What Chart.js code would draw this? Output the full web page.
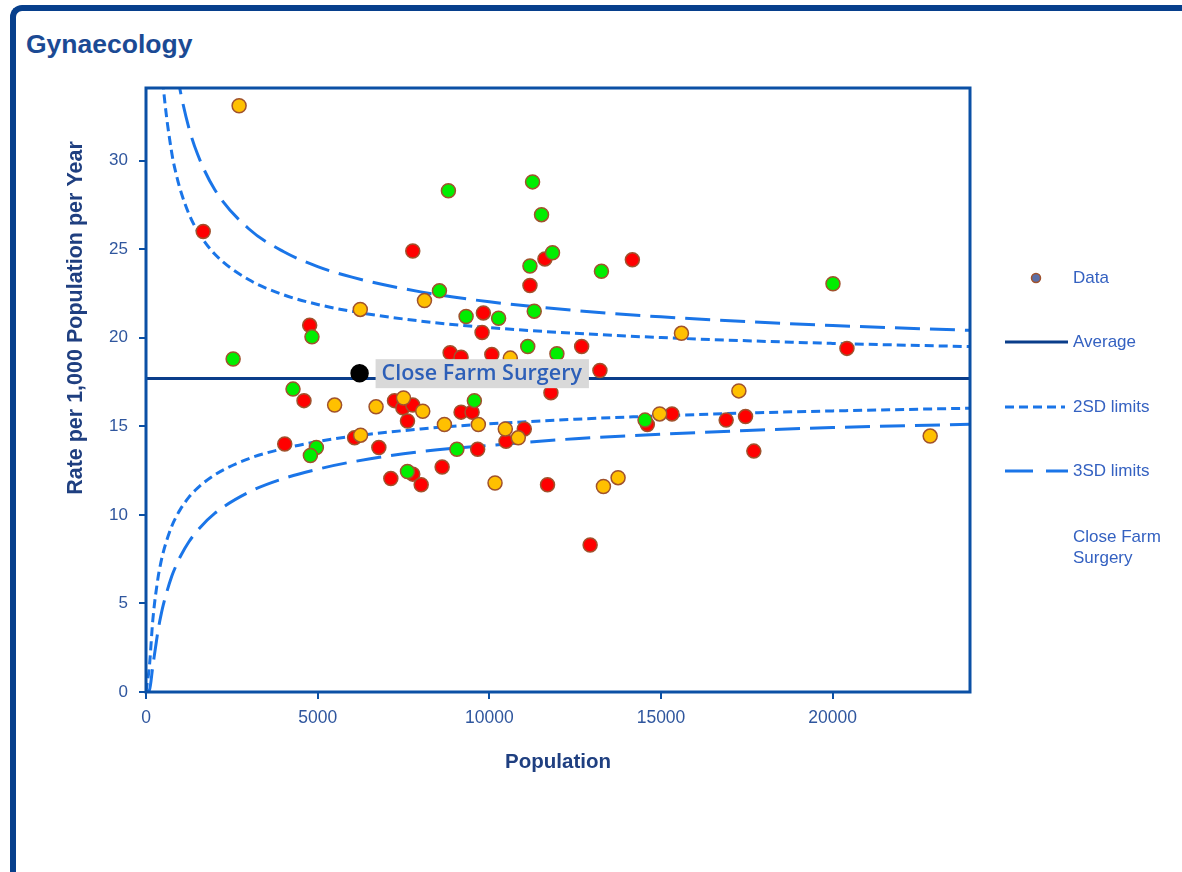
<!DOCTYPE html>
<html>
<head>
<meta charset="utf-8">
<script src="https://cdn.jsdelivr.net/npm/chart.js@4.4.1/dist/chart.umd.min.js"></script>
<style>
  body { margin: 0; background: #fff; width: 1182px; height: 872px; overflow: hidden; position: relative; font-family: "Liberation Sans", Arial, sans-serif; }
  #frame { position: absolute; left: 10px; top: 5px; width: 1300px; height: 1000px; border-left: 6px solid #073f8c; border-top: 6px solid #073f8c; border-top-left-radius: 12px; }
  #title { position: absolute; left: 26px; top: 29px; font-weight: bold; font-size: 26.5px; color: #1b4a94; }
  canvas { position: absolute; left: 0; top: 0; }
</style>
</head>
<body>
<div id="frame"></div>
<div id="title">Gynaecology</div>
<canvas id="chart" width="1182" height="872"></canvas>
<script>
// practices, coloured by how they compare with the average
const redX = [1666, 7770, 4767, 11619, 14166, 11183, 9826, 9788, 12689, 8858, 9177, 10073, 13221, 20416, 15320, 14602, 16898, 17462, 17704, 4602, 7238, 7480, 7770, 7616, 4041, 6076, 6782, 7131, 7770, 8015, 8625, 11794, 9177, 9497, 11018, 10486, 9660, 11695, 12936]
const redY = [26.0, 24.9, 20.7, 24.45, 24.4, 22.95, 21.4, 20.3, 19.5, 19.15, 18.9, 19.05, 18.15, 19.4, 15.7, 15.1, 15.35, 15.55, 13.6, 16.45, 16.45, 16.05, 16.2, 15.3, 14.0, 14.35, 13.8, 12.05, 12.3, 11.7, 12.7, 16.9, 15.8, 15.8, 14.85, 14.15, 13.7, 11.7, 8.3]

const orangeX = [2712, 6241, 8111, 15596, 5494, 6701, 7500, 8061, 6250, 8692, 9680, 10465, 10843, 10166, 13323, 13750, 14962, 17268, 22840, 10611]
const orangeY = [33.1, 21.6, 22.1, 20.25, 16.2, 16.1, 16.6, 15.85, 14.5, 15.1, 15.1, 14.85, 14.35, 11.8, 11.6, 12.1, 15.7, 17.0, 14.45, 18.85]

const greenX = [8547, 4834, 2538, 8808, 11259, 11520, 11840, 11183, 13265, 9323, 10270, 11308, 11119, 11968, 20009, 14535, 4282, 4962, 4788, 7616, 9564, 9055]
const greenY = [22.65, 20.05, 18.8, 28.3, 28.8, 26.95, 24.8, 24.05, 23.75, 21.2, 21.1, 21.5, 19.5, 19.1, 23.05, 15.35, 17.1, 13.8, 13.35, 12.45, 16.45, 13.7]

const farmName = "Close Farm Surgery"
const farmX = [6221]
const farmY = [18.0]

const avgX = [0, 24000]
const avgY = [17.7, 17.7]

// funnel limits (null = above the top of the plot)
const limitX  = [0, 100, 200, 350, 400, 500, 750, 900, 1000, 1250, 1500, 2000, 3000, 4000, 5000, 6000, 8000, 10000, 12500, 15000, 17500, 20000, 24000]
const upper2 = [null, null, null, null, 36.9, 34.25, 30.44, 29.07, 28.35, 26.99, 26.03, 24.73, 23.27, 22.43, 21.88, 21.49, 20.94, 20.57, 20.25, 20.01, 19.83, 19.68, 19.5]
const upper3 = [null, null, null, null, null, null, 37.1, 35.03, 33.92, 31.84, 30.37, 28.37, 26.14, 24.87, 24.02, 23.42, 22.59, 22.03, 21.54, 21.18, 20.91, 20.69, 20.42]
const lower2 = [0, 1.47, 4.1, 6.45, 6.99, 7.87, 9.36, 9.97, 10.31, 11.0, 11.51, 12.26, 13.18, 13.74, 14.14, 14.43, 14.85, 15.14, 15.4, 15.59, 15.75, 15.87, 16.02]
const lower3 = [0, 0.11, 1.48, 3.46, 3.99, 4.89, 6.53, 7.24, 7.65, 8.48, 9.12, 10.08, 11.29, 12.05, 12.58, 12.99, 13.57, 13.92, 14.3, 14.55, 14.76, 14.93, 15.12]

const xTicks = [0, 5000, 10000, 15000, 20000]
const yTicks = [0, 5, 10, 15, 20, 25, 30]

const legendLabels = ["Data", "Average", "2SD limits", "3SD limits", "Close Farm", "Surgery"]

const pts = (xs, ys) => xs.map((x, i) => ({ x: x, y: ys[i] })).filter(p => p.y !== null)

const FONT = '"Liberation Sans", Arial, sans-serif'
const AXIS = '#0b50a5'
const SD = '#1a75e8'

const dots = (data, color) => ({
  data: data,
  backgroundColor: color,
  borderColor: '#a0522d',
  borderWidth: 1.5,
  pointRadius: 7,
  pointHoverRadius: 7,
  showLine: false,
  order: 0
})

const curve = (data, dash) => ({
  data: data,
  showLine: true,
  borderColor: SD,
  borderWidth: 3,
  borderDash: dash,
  pointRadius: 0,
  cubicInterpolationMode: 'monotone',
  fill: false,
  order: 1
})

const extras = {
  id: 'extras',
  afterDatasetsDraw(chart) {
    const ctx = chart.ctx
    const px = chart.scales.x.getPixelForValue(farmX[0])
    const py = chart.scales.y.getPixelForValue(farmY[0])
    ctx.save()
    ctx.font = '600 21.5px "Open Sans", sans-serif'
    const w = ctx.measureText(farmName).width
    ctx.fillStyle = '#d9d9d9'
    ctx.fillRect(px + 16, py - 14, w + 13, 29)
    ctx.fillStyle = '#2d5fb8'
    ctx.textBaseline = 'middle'
    ctx.fillText(farmName, px + 22, py + 1)
    ctx.restore()
  },
  afterDraw(chart) {
    const ctx = chart.ctx
    const a = chart.chartArea
    ctx.save()
    // plot frame
    ctx.strokeStyle = AXIS
    ctx.lineWidth = 3
    ctx.strokeRect(a.left, a.top, a.right - a.left, a.bottom - a.top)

    // axis titles
    ctx.fillStyle = '#1f3f80'
    ctx.textAlign = 'center'
    ctx.textBaseline = 'middle'
    ctx.font = 'bold 20.5px ' + FONT
    ctx.fillText('Population', (a.left + a.right) / 2, a.bottom + 70)
    ctx.save()
    ctx.translate(a.left - 70, 318)
    ctx.rotate(-Math.PI / 2)
    ctx.font = 'bold 21.5px ' + FONT
    ctx.fillText('Rate per 1,000 Population per Year', 0, 0)
    ctx.restore()

    // legend
    const lx = a.right + 35
    const tx = a.right + 103
    ctx.textAlign = 'left'
    ctx.font = '17px ' + FONT
    ctx.fillStyle = '#3461c1'
    const rows = [278, 342, 407, 471, 537, 558]
    legendLabels.forEach((t, i) => ctx.fillText(t, tx, rows[i]))

    ctx.beginPath()
    ctx.arc(a.right + 66, rows[0], 4.5, 0, Math.PI * 2)
    ctx.fillStyle = '#5a6fa8'
    ctx.fill()
    ctx.strokeStyle = '#a0522d'
    ctx.lineWidth = 1.5
    ctx.stroke()

    ctx.lineWidth = 3
    ctx.strokeStyle = '#0a3d8a'
    ctx.beginPath(); ctx.moveTo(lx, rows[1]); ctx.lineTo(lx + 63, rows[1]); ctx.stroke()
    ctx.strokeStyle = SD
    ctx.setLineDash([9, 5])
    ctx.beginPath(); ctx.moveTo(lx, rows[2]); ctx.lineTo(lx + 60, rows[2]); ctx.stroke()
    ctx.setLineDash([28, 13])
    ctx.beginPath(); ctx.moveTo(lx, rows[3]); ctx.lineTo(lx + 63, rows[3]); ctx.stroke()
    ctx.restore()
  }
}

new Chart(document.getElementById('chart'), {
  type: 'scatter',
  data: {
    datasets: [
      Object.assign(dots(pts(farmX, farmY), '#000000'), { borderColor: '#000000', pointRadius: 8.5, order: -1 }),
      dots(pts(orangeX, orangeY), '#ffc000'),
      dots(pts(greenX, greenY), '#00ee00'),
      dots(pts(redX, redY), '#ff0000'),
      { data: pts(avgX, avgY), showLine: true, borderColor: '#0a3d8a', borderWidth: 3, pointRadius: 0, order: 1 },
      curve(pts(limitX, upper2), [9, 5]),
      curve(pts(limitX, lower2), [9, 5]),
      curve(pts(limitX, upper3), [25, 10]),
      curve(pts(limitX, lower3), [25, 10])
    ]
  },
  options: {
    responsive: false,
    animation: false,
    events: [],
    layout: { padding: { left: 0, top: 88, right: 212, bottom: 0 } },
    plugins: { legend: { display: false }, tooltip: { enabled: false } },
    scales: {
      x: {
        type: 'linear',
        min: 0,
        max: 24000,
        afterFit: (s) => { s.height = 180 },
        afterBuildTicks: (s) => { s.ticks = xTicks.map(v => ({ value: v })) },
        border: { display: false },
        grid: { drawOnChartArea: false, tickLength: 7, color: AXIS, lineWidth: 2 },
        ticks: {
          padding: 9,
          color: '#2f569e',
          font: { family: FONT, size: 17.5 },
          callback: (v) => String(v)
        }
      },
      y: {
        min: 0,
        max: 34.1,
        afterFit: (s) => { s.width = 146 },
        afterBuildTicks: (s) => { s.ticks = yTicks.map(v => ({ value: v })) },
        border: { display: false },
        grid: { drawOnChartArea: false, tickLength: 7, color: AXIS, lineWidth: 2 },
        ticks: {
          padding: 11,
          color: '#2f569e',
          font: { family: FONT, size: 17 }
        }
      }
    }
  },
  plugins: [extras]
})
</script>
</body>
</html>
